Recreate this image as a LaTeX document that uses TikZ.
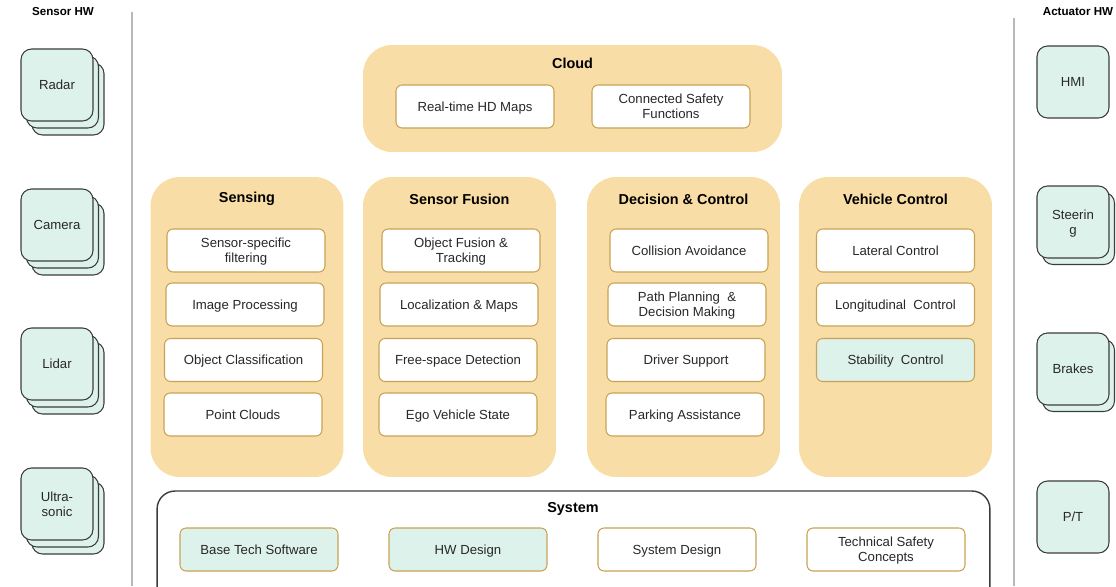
\documentclass[tikz,border=0pt]{standalone}
\usepackage{fontspec}
\setmainfont{Liberation Sans}
\usetikzlibrary{positioning,shadows}
\definecolor{groupfill}{RGB}{249,221,166}
\definecolor{itemline}{RGB}{201,163,85}
\definecolor{hwteal}{RGB}{222,242,236}
\definecolor{hwline}{RGB}{60,60,60}
\definecolor{sepgrey}{RGB}{185,185,185}
\definecolor{txt}{RGB}{40,40,40}

\begin{document}
\begin{tikzpicture}[x=0.02cm, y=-0.02cm,
  group/.style={fill=groupfill, rounded corners=0.58cm, minimum width=3.86cm, minimum height=6cm},
  item/.style={draw=itemline, line width=0.6pt, fill=white, rounded corners=3.5pt,
               minimum width=3.16cm, minimum height=0.86cm, align=center, text=txt,
               font=\fontsize{7.5}{8.6}\selectfont, text depth=0pt},
  itemhw/.style={item, fill=hwteal},
  ttl/.style={font=\fontsize{8.2}{10}\selectfont\bfseries},
  hwttl/.style={font=\fontsize{6.6}{8}\selectfont\bfseries},
  hw/.style={draw=hwline, line width=0.6pt, fill=hwteal, rounded corners=6pt,
             minimum width=1.44cm, minimum height=1.44cm, align=center, text=txt,
             font=\fontsize{7.5}{8.6}\selectfont, text depth=0pt},
  hwstack/.style={hw, double copy shadow={shadow xshift=0.11cm, shadow yshift=-0.14cm,
                  fill=hwteal, draw=hwline, line width=0.6pt}},
  hwpair/.style={hw, copy shadow={shadow xshift=0.11cm, shadow yshift=-0.13cm,
                  fill=hwteal, draw=hwline, line width=0.6pt}},
  sep/.style={draw=sepgrey, line width=0.9pt}
]
\path[use as bounding box, clip] (0,0) rectangle (1116,586);

% ---- sensor hardware, left margin ----
\node[hwttl] (sensorhw) at (63,12) {Sensor HW};
\node[hwstack] (radar)  at (57,85)  {Radar};
\node[hwstack] (camera) at (57,225) {Camera};
\node[hwstack] (lidar)  at (57,364) {Lidar};
\node[hwstack] (usonic) at (57,504) {Ultra-\\sonic};
\draw[sep] (132,12) -- (132,586);

% ---- actuator hardware, right margin ----
\node[hwttl] (acthw) at (1078,12) {Actuator HW};
\node[hw]     (hmi)    at (1073,82)  {HMI};
\node[hwpair] (steer)  at (1073,222) {Steerin\\g};
\node[hwpair] (brakes) at (1073,369) {Brakes};
\node[hw]     (pt)     at (1073,517) {P/T};
\draw[sep] (1014,18) -- (1014,586);

% ---- cloud ----
\node[group, minimum width=8.38cm, minimum height=2.14cm] (cloud) at (572.5,98.5) {};
\node[ttl] (cloudttl) at (572.5,63) {Cloud};
\node[item] (hdmaps) at (475,106.5) {Real-time HD Maps};
\node[item] (connsafe) at (671,106.5) {Connected Safety\\Functions};

% ---- the four processing columns ----
\node[group] (sensing)  at (247,327)   {};
\node[group] (fusion)   at (459.5,327) {};
\node[group] (decision) at (683.5,327) {};
\node[group] (vehicle)  at (895.5,327) {};

\node[ttl] (sensingttl)  at (247,199)   {Sensing};
\node[ttl] (fusionttl)   at (459.5,199) {Sensor Fusion};
\node[ttl] (decisionttl) at (683.5,199) {Decision \& Control};
\node[ttl] (vehiclettl)  at (895.5,199) {Vehicle Control};

\node[item] (filter)   at (246,250.5)   {Sensor-specific\\filtering};
\node[item] (imgproc)  at (245,304.5)   {Image Processing};
\node[item] (objclass) at (243.5,360)   {Object Classification};
\node[item] (ptcloud)  at (243,414.5)   {Point Clouds};

\node[item] (objfus)   at (461,250.5)   {Object Fusion \&\\Tracking};
\node[item] (locmap)   at (459,304.5)   {Localization \& Maps};
\node[item] (freesp)   at (458,360)     {Free-space Detection};
\node[item] (egostate) at (458,414.5)   {Ego Vehicle State};

\node[item] (collav)   at (689,250.5)   {Collision Avoidance};
\node[item] (pathplan) at (687,304.5)   {Path Planning \ \&\\Decision Making};
\node[item] (drvsup)   at (686,360)     {Driver Support};
\node[item] (parking)  at (685,414.5)   {Parking Assistance};

\node[item]   (latctl) at (895.5,250.5) {Lateral Control};
\node[item]   (lonctl) at (895.5,304.5) {Longitudinal \ Control};
\node[itemhw] (stabctl) at (895.5,360)  {Stability \ Control};

% ---- system strip (runs off the bottom edge) ----
\node[draw=hwline, line width=0.8pt, fill=white, rounded corners=0.36cm,
      minimum width=16.66cm, minimum height=2.6cm] (system) at (573.5,556) {};
\node[ttl] (systemttl) at (573,509) {System};
\node[itemhw] (basesw)  at (259,549.5) {Base Tech Software};
\node[itemhw] (hwdes)   at (468,549.5) {HW Design};
\node[item]   (sysdes)  at (677,549.5) {System Design};
\node[item]   (techsaf) at (886,549.5) {Technical Safety\\Concepts};

\end{tikzpicture}
\end{document}
